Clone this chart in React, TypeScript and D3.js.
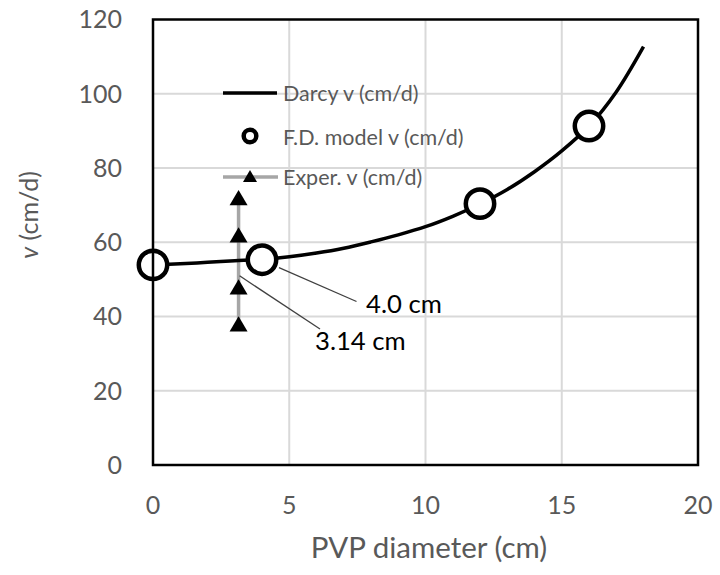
import React from "react";
import * as d3 from "d3";

const darcyX = [0, 1, 2, 3, 4, 5, 6, 7, 8, 9, 10, 11, 12, 13, 14, 15, 16, 17, 18];
const darcyV = [53.9, 54.2, 54.6, 55.0, 55.4, 56.1, 57.1, 58.4, 60.1, 62.0, 64.2, 67.0, 70.3, 74.2, 79.0, 84.6, 91.3, 100.5, 112.7];
const modelX = [0, 4, 12, 16];
const modelV = [53.9, 55.3, 70.4, 91.3];
const experX = [3.14, 3.14, 3.14, 3.14];
const experV = [72, 62, 48, 38];
const xTicks = [0, 5, 10, 15, 20];
const yTicks = [0, 20, 40, 60, 80, 100, 120];
const legendLabels = ["Darcy v (cm/d)", "F.D. model v (cm/d)", "Exper. v (cm/d)"];
const annoLabels = ["4.0 cm", "3.14 cm"];
const xTitle = "PVP diameter (cm)";

const FONT = "Lato, 'Open Sans', sans-serif";
const GRAY = "#595959";

export default function App() {
  const x = d3.scaleLinear().domain([0, 20]).range([153, 698]);
  const y = d3.scaleLinear().domain([0, 120]).range([465, 19.5]);

  const line = d3
    .line<number>()
    .x((_, i) => x(darcyX[i]))
    .y((d) => y(d))
    .curve(d3.curveCatmullRom.alpha(0.5));

  const experLine = d3
    .line<number>()
    .x((_, i) => x(experX[i]))
    .y((d) => y(d));

  const triPath = (w: number) => {
    const h = w * 0.85;
    return `M0,${-h / 2}L${w / 2},${h / 2}L${-w / 2},${h / 2}Z`;
  };

  const a1 = { x: x(4) + 17, y: y(modelV[1]) + 8 };
  const a1End = { x: 356.5, y: 301.5 };
  const a2 = { x: x(3.14) + 1, y: y(55) + 15 };
  const a2End = { x: 320, y: 329 };

  return (
    <svg
      width={720}
      height={575}
      style={{ position: "absolute", left: 0, top: 0, background: "#fff" }}
      fontFamily={FONT}
    >
      <rect x={0} y={0} width={720} height={575} fill="#fff" />
      {xTicks.slice(1, -1).map((t) => (
        <line key={"gx" + t} x1={x(t)} x2={x(t)} y1={y(0)} y2={y(120)} stroke="#D9D9D9" strokeWidth={2} />
      ))}
      {yTicks.slice(1, -1).map((t) => (
        <line key={"gy" + t} x1={x(0)} x2={x(20)} y1={y(t)} y2={y(t)} stroke="#D9D9D9" strokeWidth={2} />
      ))}

      <g>
        <line x1={223} x2={277} y1={93} y2={93} stroke="#000" strokeWidth={3.5} />
        <text x={283} y={93} dy="0.35em" fontSize={21.5} fill={GRAY}>{legendLabels[0]}</text>
        <circle cx={250} cy={136} r={6.3} fill="#fff" stroke="#000" strokeWidth={4.5} />
        <text x={283} y={137} dy="0.35em" fontSize={21.5} fill={GRAY}>{legendLabels[1]}</text>
        <line x1={223} x2={278} y1={177} y2={177} stroke="#A6A6A6" strokeWidth={3.5} />
        <path d={triPath(14)} transform="translate(250,176)" fill="#000" />
        <text x={283} y={177} dy="0.35em" fontSize={21.5} fill={GRAY}>{legendLabels[2]}</text>
      </g>

      <path d={experLine(experV) || ""} fill="none" stroke="#A6A6A6" strokeWidth={3.5} />
      <path d={line(darcyV) || ""} fill="none" stroke="#000" strokeWidth={3.5} />

      {experV.map((v, i) => (
        <path key={"e" + i} d={triPath(18)} transform={`translate(${x(experX[i])},${y(v)})`} fill="#000" />
      ))}

      <line x1={a1.x} y1={a1.y} x2={a1End.x} y2={a1End.y} stroke="#404040" strokeWidth={1.3} />
      <line x1={a2.x} y1={a2.y} x2={a2End.x} y2={a2End.y} stroke="#404040" strokeWidth={1.3} />

      {modelV.map((v, i) => (
        <circle key={"m" + i} cx={x(modelX[i])} cy={y(v)} r={14.2} fill="#fff" stroke="#000" strokeWidth={4.5} />
      ))}

      <text x={366} y={313} fontSize={25.7} fill="#000">{annoLabels[0]}</text>
      <text x={315} y={350} fontSize={25.7} fill="#000">{annoLabels[1]}</text>

      <rect x={x(0)} y={y(120)} width={x(20) - x(0)} height={y(0) - y(120)} fill="none" stroke="#000" strokeWidth={2.5} />

      {xTicks.map((t) => (
        <text key={"xt" + t} x={x(t)} y={505} dy="0.35em" textAnchor="middle" fontSize={25} fill={GRAY}>{t}</text>
      ))}
      {yTicks.map((t) => (
        <text key={"yt" + t} x={122} y={y(t)} dy="0.35em" textAnchor="end" fontSize={25} fill={GRAY}>{t}</text>
      ))}

      <text x={429} y={548} dy="0.35em" textAnchor="middle" fontSize={29.5} fill={GRAY}>{xTitle}</text>
      <text transform="translate(29,215) rotate(-90)" textAnchor="middle" dy="0.35em" fontSize={25} fill={GRAY}>
        <tspan fontStyle="italic">v</tspan>
        <tspan> (cm/d)</tspan>
      </text>
    </svg>
  );
}
